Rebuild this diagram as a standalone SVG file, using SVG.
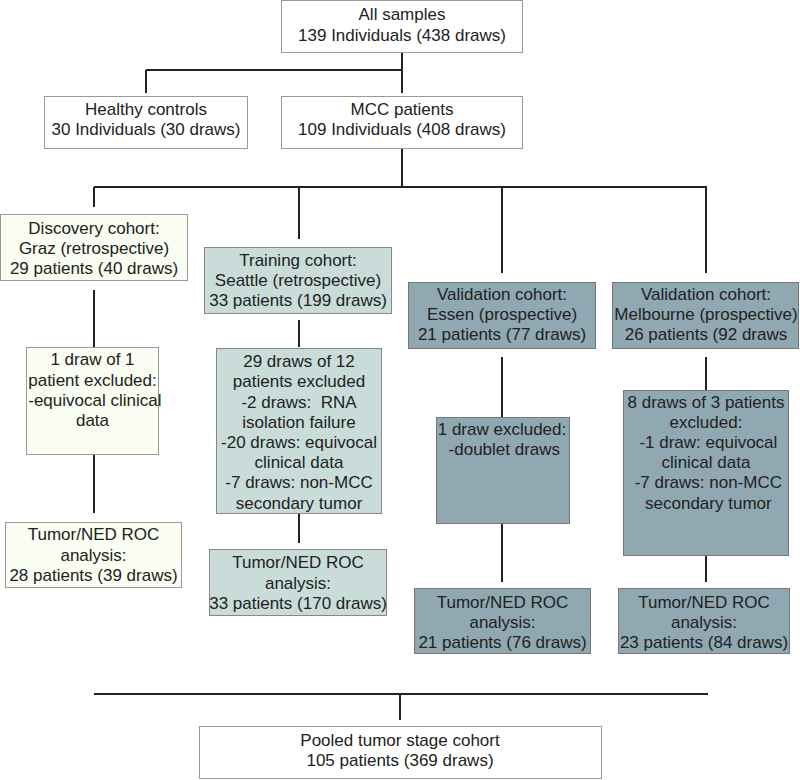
<svg xmlns="http://www.w3.org/2000/svg" width="800" height="780" viewBox="0 0 800 780">
<style>
text{font-family:"Liberation Sans",Arial,sans-serif;font-size:17px;fill:#222;text-anchor:middle;white-space:pre}
.w{fill:#fff;stroke:#999;stroke-width:1}
.d{fill:#fafdf1;stroke:#9a9a9a;stroke-width:1}
.t{fill:#c9dcd9;stroke:#888;stroke-width:1}
.v{fill:#8fa8b2;stroke:#777;stroke-width:1}
#connectors path{fill:none;stroke:#222;stroke-width:2}
</style>
<rect width="800" height="780" fill="#fff"/>
<g id="connectors">
<path d="M402 53V93M146 70H402M146 70V93"/>
<path d="M402 149V187M94 187H707M94 187V207M299 187V239M502 187V273M706 187V273"/>
<path d="M94 290V347M94 454V513"/>
<path d="M299 320V347M299 514V543"/>
<path d="M502 357V417M502 524V582"/>
<path d="M706 357V390M706 556V582"/>
<path d="M94 694H708M400 694V720"/>
</g>
<g id="all"><rect class="w" x="281.5" y="0.5" width="241" height="52"/><text x="402" y="20">All samples</text><text x="402" y="41">139 Individuals (438 draws)</text></g>
<g id="healthy"><rect class="w" x="44.5" y="96.5" width="203" height="52"/><text x="146" y="115">Healthy controls</text><text x="146" y="135">30 Individuals (30 draws)</text></g>
<g id="mcc"><rect class="w" x="281.5" y="96.5" width="241" height="52"/><text x="402" y="115">MCC patients</text><text x="402" y="135">109 Individuals (408 draws)</text></g>

<g id="discovery"><rect class="d" x="0.5" y="214.5" width="187" height="66"/><text x="94" y="234">Discovery cohort:</text><text x="94" y="254">Graz (retrospective)</text><text x="94" y="274">29 patients (40 draws)</text></g>
<g id="training"><rect class="t" x="204.5" y="247.5" width="187" height="66"/><text x="298" y="266">Training cohort:</text><text x="298" y="286">Seattle (retrospective)</text><text x="298" y="306">33 patients (199 draws)</text></g>
<g id="essen"><rect class="v" x="408.5" y="282.5" width="187" height="66"/><text x="502" y="300">Validation cohort:</text><text x="502" y="320">Essen (prospective)</text><text x="502" y="340">21 patients (77 draws)</text></g>
<g id="melbourne"><rect class="v" x="612.5" y="282.5" width="186" height="66"/><text x="706" y="300">Validation cohort:</text><text x="706" y="320">Melbourne (prospective)</text><text x="706" y="340">26 patients (92 draws</text></g>

<g id="excl-discovery"><rect class="d" x="26.5" y="347.5" width="132" height="107"/><text x="92.5" y="365">1 draw of 1</text><text x="92.5" y="386">patient excluded:</text><text x="92.5" y="406"> -equivocal clinical</text><text x="92.5" y="426">data</text></g>
<g id="excl-training"><rect class="t" x="216.5" y="348.5" width="165" height="165"/><text x="299" y="367">29 draws of 12</text><text x="299" y="387">patients excluded</text><text x="299" y="408">-2 draws:  RNA</text><text x="299" y="428">isolation failure</text><text x="299" y="448">-20 draws: equivocal</text><text x="299" y="468">clinical data</text><text x="299" y="488">-7 draws: non-MCC</text><text x="299" y="509">secondary tumor</text></g>
<g id="excl-essen"><rect class="v" x="436.5" y="417.5" width="133" height="106"/><text x="502" y="435">1 draw excluded:</text><text x="502" y="455"> -doublet draws</text></g>
<g id="excl-melbourne"><rect class="v" x="623.5" y="390.5" width="165" height="165"/><text x="706" y="408">8 draws of 3 patients</text><text x="706" y="428">excluded:</text><text x="706" y="448"> -1 draw: equivocal</text><text x="706" y="468">clinical data</text><text x="706" y="488"> -7 draws: non-MCC</text><text x="706" y="509"> secondary tumor</text></g>

<g id="roc-discovery"><rect class="d" x="5.5" y="522.5" width="176" height="65"/><text x="93.5" y="540">Tumor/NED ROC</text><text x="93.5" y="561">analysis:</text><text x="93.5" y="581">28 patients (39 draws)</text></g>
<g id="roc-training"><rect class="t" x="209.5" y="549.5" width="177" height="66"/><text x="298" y="568">Tumor/NED ROC</text><text x="298" y="589">analysis:</text><text x="298" y="609">33 patients (170 draws)</text></g>
<g id="roc-essen"><rect class="v" x="414.5" y="588.5" width="176" height="65"/><text x="502.5" y="608">Tumor/NED ROC</text><text x="502.5" y="628">analysis:</text><text x="502.5" y="648">21 patients (76 draws)</text></g>
<g id="roc-melbourne"><rect class="v" x="618.5" y="588.5" width="171" height="65"/><text x="704" y="608">Tumor/NED ROC</text><text x="704" y="628">analysis:</text><text x="704" y="648">23 patients (84 draws)</text></g>

<g id="pooled"><rect class="w" x="199.5" y="726.5" width="402" height="52"/><text x="400" y="746">Pooled tumor stage cohort</text><text x="400" y="766">105 patients (369 draws)</text></g>
</svg>
